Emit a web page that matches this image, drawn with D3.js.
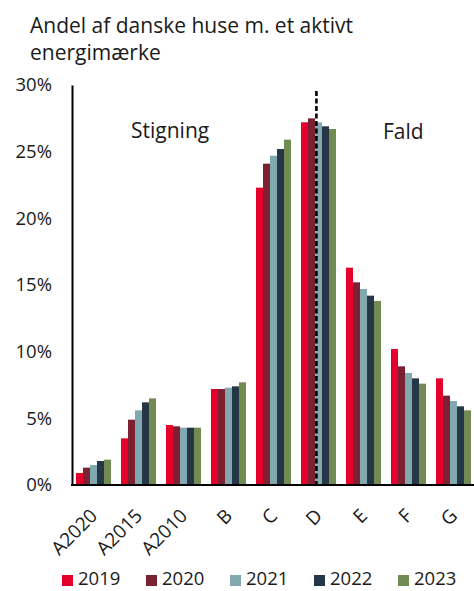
<!DOCTYPE html>
<html>
<head>
<meta charset="utf-8">
<script src="https://cdn.jsdelivr.net/npm/d3@7"></script>
<style>
  html, body { margin: 0; padding: 0; background: #fff; }
  svg { display: block; font-family: "Open Sans", "DejaVu Sans", sans-serif; }
</style>
</head>
<body>
<svg id="chart" width="474" height="591"></svg>
<script>
// Energy label categories and survey years
const categories = ["A2020", "A2015", "A2010", "B", "C", "D", "E", "F", "G"];
const years = ["2019", "2020", "2021", "2022", "2023"];

// Share of Danish houses (%) per label, one array per year
const v2019 = [0.9, 3.5, 4.5, 7.2, 22.3, 27.2, 16.3, 10.2, 8.0];
const v2020 = [1.3, 4.9, 4.4, 7.2, 24.1, 27.5, 15.2, 8.9, 6.7];
const v2021 = [1.5, 5.6, 4.3, 7.3, 24.7, 27.2, 14.7, 8.4, 6.3];
const v2022 = [1.8, 6.2, 4.3, 7.4, 25.2, 26.9, 14.2, 8.0, 5.9];
const v2023 = [1.9, 6.5, 4.3, 7.7, 25.9, 26.7, 13.8, 7.6, 5.6];

const yTicks = [0, 5, 10, 15, 20, 25, 30];
const colors = ["#e4002b", "#7b2131", "#82a9b0", "#253646", "#718b53"];

const seriesValues = [v2019, v2020, v2021, v2022, v2023];
const rows = categories.map((c, i) => ({
  cat: c,
  vals: years.map((y, j) => ({ year: y, value: seriesValues[j][i] }))
}));

const svg = d3.select("#chart");

const x0 = d3.scaleBand()
  .domain(categories)
  .range([71, 476])
  .paddingInner(0.2222)
  .paddingOuter(0.1111);

const x1 = d3.scaleBand()
  .domain(years)
  .range([0, x0.bandwidth()])
  .padding(0);

const y = d3.scaleLinear().domain([0, 30]).range([485, 85]);
const color = d3.scaleOrdinal().domain(years).range(colors);

// Title
const title = svg.append("text")
  .attr("x", 30)
  .attr("y", 33)
  .attr("font-size", 21)
  .attr("fill", "#1a1a1a");
title.append("tspan").attr("x", 30).text("Andel af danske huse m. et aktivt");
title.append("tspan").attr("x", 30).attr("dy", 27).text("energimærke");

// Bars
svg.append("g")
  .selectAll("g")
  .data(rows)
  .join("g")
  .attr("transform", d => `translate(${x0(d.cat)},0)`)
  .selectAll("rect")
  .data(d => d.vals)
  .join("rect")
  .attr("x", d => x1(d.year))
  .attr("width", x1.bandwidth())
  .attr("y", d => y(d.value))
  .attr("height", d => y(0) - y(d.value))
  .attr("fill", d => color(d.year));

// Divider between rising and falling shares
const dx = x0("D") + x0.bandwidth() * 0.44;
svg.append("line")
  .attr("x1", dx).attr("x2", dx)
  .attr("y1", y(30) + 6).attr("y2", y(0))
  .attr("stroke", "#000")
  .attr("stroke-width", 2.6)
  .attr("stroke-dasharray", "5,2.5");

// Y axis
const yAxis = d3.axisLeft(y)
  .tickValues(yTicks)
  .tickSize(0)
  .tickPadding(20)
  .tickFormat(d => d + "%");
const gy = svg.append("g").attr("transform", "translate(72,0)").call(yAxis);
gy.select(".domain").attr("stroke", "#000").attr("stroke-width", 2);
gy.selectAll("text").attr("font-size", 18.5).attr("fill", "#1a1a1a")
  .attr("font-family", "\"Open Sans\", sans-serif");

// X axis
const xAxis = d3.axisBottom(x0).tickSize(0).tickPadding(0);
const gx = svg.append("g").attr("transform", `translate(0,${y(0)})`).call(xAxis);
gx.select(".domain").attr("d", "M71,0H474").attr("stroke", "#000").attr("stroke-width", 2.2);
gx.selectAll(".tick text")
  .attr("font-size", 19)
  .attr("font-family", "\"Open Sans\", sans-serif")
  .attr("fill", "#1a1a1a")
  .attr("text-anchor", "end")
  .attr("dy", null)
  .attr("y", 0)
  .attr("transform", "translate(5,32) rotate(-45)");

// Annotations
svg.append("text").attr("x", 131).attr("y", 138)
  .attr("font-size", 21).attr("fill", "#1a1a1a").text("Stigning");
svg.append("text").attr("x", 383).attr("y", 139)
  .attr("font-size", 21).attr("fill", "#1a1a1a").text("Fald");

// Legend
const legend = svg.append("g")
  .selectAll("g")
  .data(years)
  .join("g")
  .attr("transform", (d, i) => `translate(${62 + i * 84},0)`);
legend.append("rect")
  .attr("x", 0).attr("y", 575)
  .attr("width", 11).attr("height", 11)
  .attr("fill", d => color(d));
legend.append("text")
  .attr("x", 16).attr("y", 585)
  .attr("font-size", 18.5)
  .attr("fill", "#1a1a1a")
  .text(d => d);
</script>
</body>
</html>
